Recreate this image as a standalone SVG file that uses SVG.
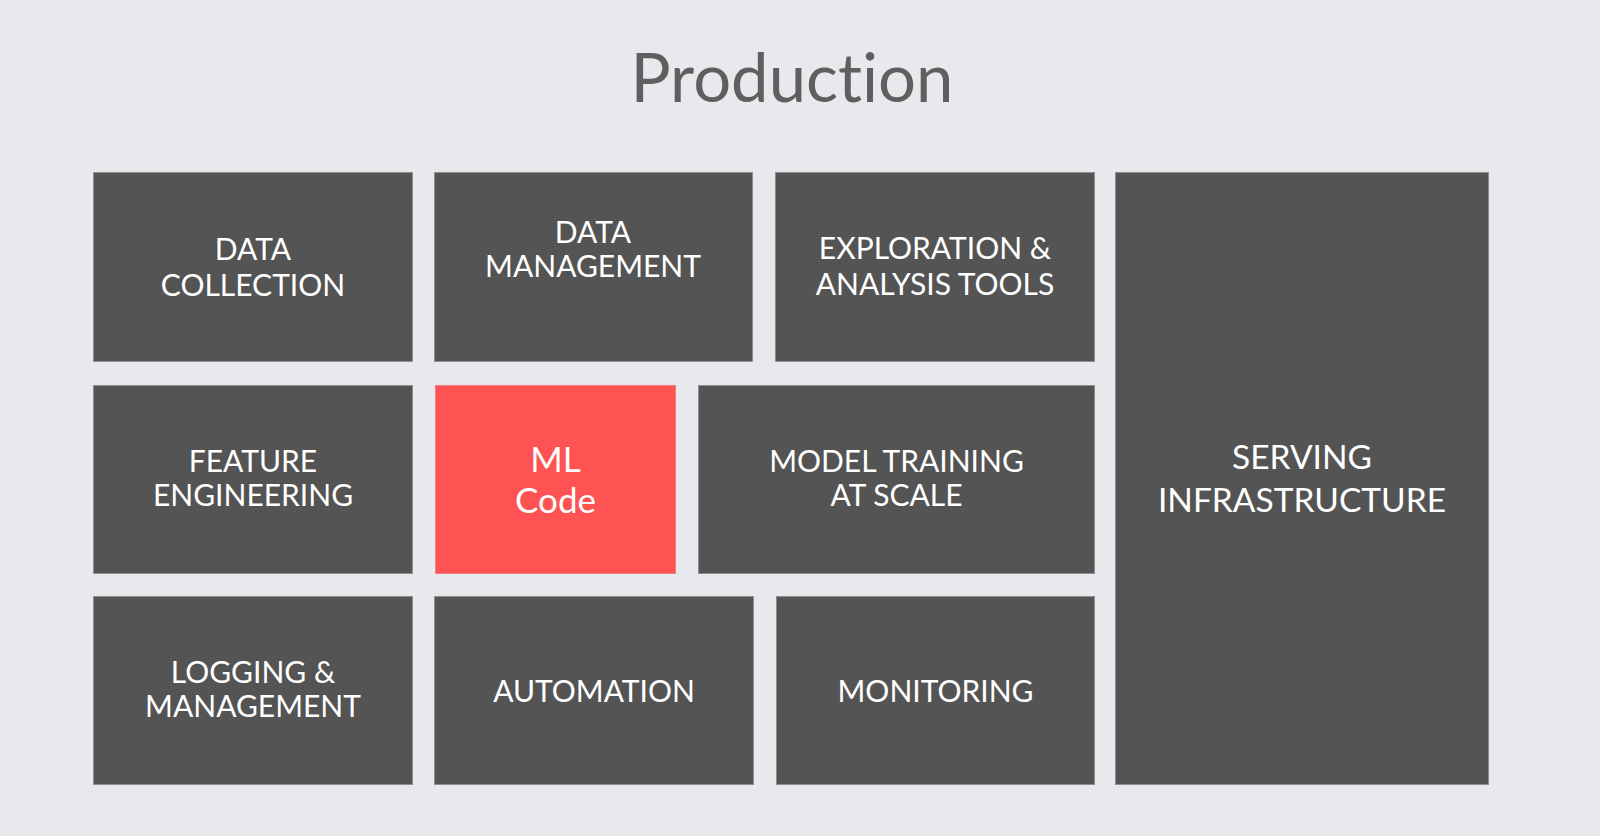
<svg xmlns="http://www.w3.org/2000/svg" width="1600" height="836" viewBox="0 0 1600 836">
<style>
.bg{fill:#e8e9ed}
.box{fill:#545454;stroke:#8e8e8e;stroke-width:1}
.red{fill:#ff5252;stroke:#f08080;stroke-width:1}
.t{font-family:Lato,"Open Sans","Liberation Sans",sans-serif;fill:#ffffff;text-anchor:middle;font-size:30px}
.big{font-size:35px}
.serv{font-size:33.5px}
.title{font-family:Lato,"Open Sans","Liberation Sans",sans-serif;fill:#5f5f5f;text-anchor:middle;font-size:67px;font-variant-ligatures:none}
</style>
<rect class="bg" x="0" y="0" width="1600" height="836"/>
<text class="title" x="792" y="102">Production</text>
<g id="connectors"/>
<g id="data-collection"><rect class="box" x="93.5" y="172.5" width="319" height="189"/><text class="t" x="253" y="260">DATA</text><text class="t" x="253" y="296">COLLECTION</text></g>
<g id="data-management"><rect class="box" x="434.5" y="172.5" width="318" height="189"/><text class="t" x="593" y="243">DATA</text><text class="t" x="593" y="277">MANAGEMENT</text></g>
<g id="exploration"><rect class="box" x="775.5" y="172.5" width="319" height="189"/><text class="t" x="935" y="259">EXPLORATION &amp;</text><text class="t" x="935" y="295">ANALYSIS TOOLS</text></g>
<g id="feature-engineering"><rect class="box" x="93.5" y="385.5" width="319" height="188"/><text class="t" x="253" y="472">FEATURE</text><text class="t" x="253" y="506">ENGINEERING</text></g>
<g id="ml-code"><rect class="red" x="435.5" y="385.5" width="240" height="188"/><text class="t big" x="555.5" y="472">ML</text><text class="t big" x="555.5" y="513">Code</text></g>
<g id="model-training"><rect class="box" x="698.5" y="385.5" width="396" height="188"/><text class="t" x="896.5" y="472">MODEL TRAINING</text><text class="t" x="896.5" y="506">AT SCALE</text></g>
<g id="logging"><rect class="box" x="93.5" y="596.5" width="319" height="188"/><text class="t" x="253" y="683">LOGGING &amp;</text><text class="t" x="253" y="717">MANAGEMENT</text></g>
<g id="automation"><rect class="box" x="434.5" y="596.5" width="319" height="188"/><text class="t" x="594" y="702">AUTOMATION</text></g>
<g id="monitoring"><rect class="box" x="776.5" y="596.5" width="318" height="188"/><text class="t" x="935.5" y="702">MONITORING</text></g>
<g id="serving-infrastructure"><rect class="box" x="1115.5" y="172.5" width="373" height="612"/><text class="t serv" x="1302" y="469">SERVING</text><text class="t serv" x="1302" y="512">INFRASTRUCTURE</text></g>
</svg>
